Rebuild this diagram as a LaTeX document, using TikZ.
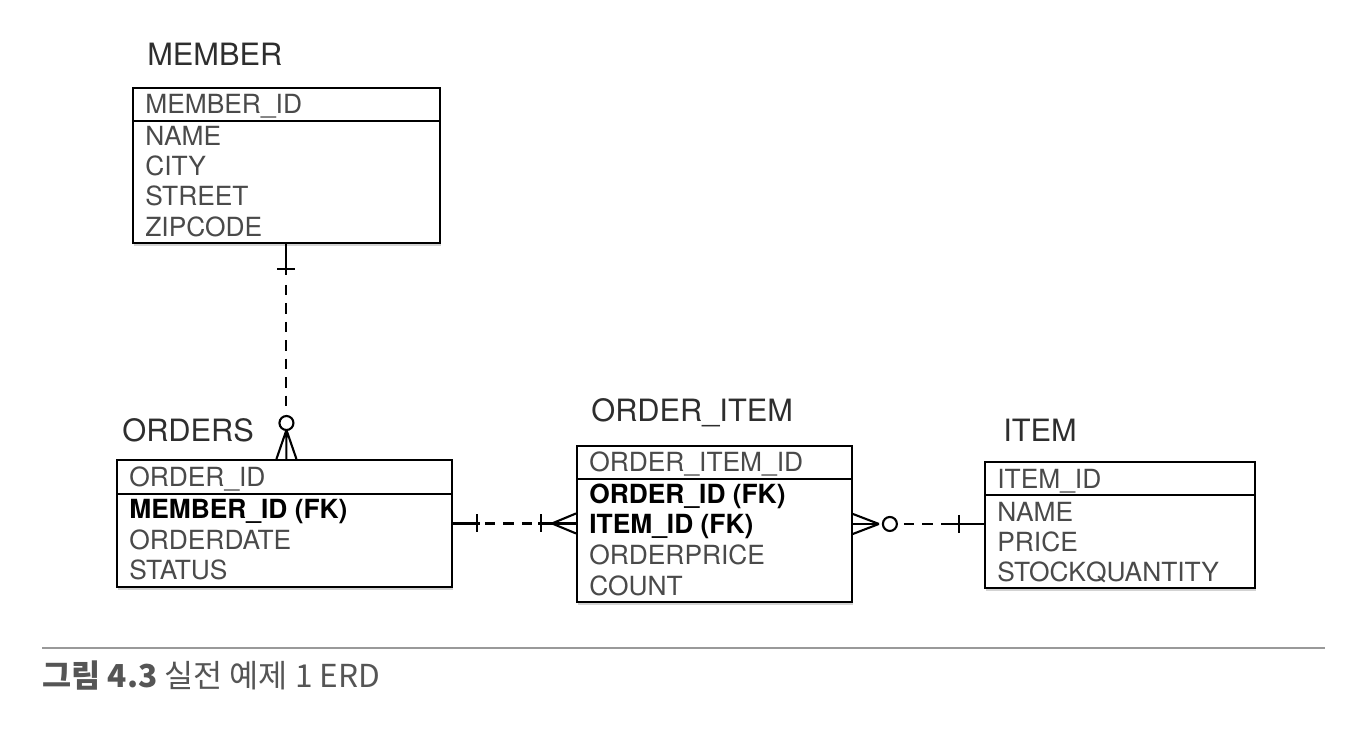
\documentclass[tikz,border=0pt]{standalone}
\usepackage{fontspec}
\setmainfont{TeX Gyre Heros}
\newfontfamily\krfont{Noto Sans CJK KR}
\usetikzlibrary{calc,shadows}
\definecolor{fieldgray}{HTML}{4A4A4A}
\definecolor{titlegray}{HTML}{2E2E2E}
\definecolor{capgray}{HTML}{555555}

\begin{document}
\begin{tikzpicture}[x=0.02cm,y=-0.02cm,
  table/.style={draw=black,line width=1.1pt,fill=white,anchor=north west,inner sep=0pt,
    drop shadow={opacity=0.35,shadow xshift=0.6pt,shadow yshift=-1.8pt}},
  title/.style={anchor=base west,inner sep=0pt,text=titlegray,font=\fontsize{17.5}{20}\selectfont},
  field/.style={anchor=base west,inner sep=0pt,text=fieldgray,font=\fontsize{15}{17}\selectfont},
  fkfield/.style={field,text=black,font=\fontsize{15}{17}\selectfont\bfseries},
  rel/.style={line width=1.2pt},
  reldash/.style={rel,dash pattern=on 6pt off 4.5pt}]
\useasboundingbox (0,0) rectangle (1372,754);

% MEMBER
\node[title] (membertitle) at (147,65) {MEMBER};
\node[table,minimum width=6.14cm,minimum height=3.1cm] (member) at (132,87) {};
\draw[line width=1.1pt] ($(member.north west)+(0,34)$) -- ($(member.north east)+(0,34)$);
\node[field] (memberpk) at (145,113) {MEMBER\_ID};
\foreach \f [count=\i] in {NAME,CITY,STREET,ZIPCODE}
  \node[field] (member\i) at (145,{114.6+30.4*\i}) {\f};

% ORDERS
\node[title] (orderstitle) at (122,441) {ORDERS};
\node[table,minimum width=6.7cm,minimum height=2.54cm] (orders) at (116,459) {};
\draw[line width=1.1pt] ($(orders.north west)+(0,35)$) -- ($(orders.north east)+(0,35)$);
\node[field] (orderspk) at (129,486) {ORDER\_ID};
\node[fkfield] (orders1) at (129,518) {MEMBER\_ID (FK)};
\node[field] (orders2) at (129,549) {ORDERDATE};
\node[field] (orders3) at (129,579) {STATUS};

% ORDER_ITEM
\node[title] (oitemtitle) at (591,421) {ORDER\_ITEM};
\node[table,minimum width=5.5cm,minimum height=3.12cm] (oitem) at (576,445) {};
\draw[line width=1.1pt] ($(oitem.north west)+(0,34)$) -- ($(oitem.north east)+(0,34)$);
\node[field] (oitempk) at (589,471) {ORDER\_ITEM\_ID};
\node[fkfield] (oitem1) at (589,503) {ORDER\_ID (FK)};
\node[fkfield] (oitem2) at (589,533) {ITEM\_ID (FK)};
\node[field] (oitem3) at (589,564) {ORDERPRICE};
\node[field] (oitem4) at (589,595) {COUNT};

% ITEM
\node[title] (itemtitle) at (1003,441) {ITEM};
\node[table,minimum width=5.4cm,minimum height=2.52cm] (item) at (984,461) {};
\draw[line width=1.1pt] ($(item.north west)+(0,34)$) -- ($(item.north east)+(0,34)$);
\node[field] (itempk) at (997,488) {ITEM\_ID};
\foreach \f [count=\i] in {NAME,PRICE,STOCKQUANTITY}
  \node[field] (item\i) at (997,{491+30*\i}) {\f};

% member -- orders (one to zero-or-many)
\coordinate (mo) at (member.south |- orders.north);
\draw[rel] (member.south) -- ++(0,31);
\draw[rel] ($(member.south)+(-9,25)$) -- ++(18,0);
\draw[reldash] ($(member.south)+(0,41)$) -- ($(mo)+(0,-51)$);
\draw[rel] ($(mo)+(0,-36)$) circle[radius=0.14cm];
\draw[rel] ($(mo)+(0,-29)$) -- (mo) ($(mo)+(0,-29)$) -- ($(mo)+(-10,0)$) ($(mo)+(0,-29)$) -- ($(mo)+(10,0)$);

% orders -- order_item (one to many)
\coordinate (oi) at (orders.east -| oitem.west);
\draw[rel] (orders.east) -- ++(27,0);
\draw[rel] ($(orders.east)+(24,-9)$) -- ++(0,18);
\draw[reldash] ($(orders.east)+(32,0)$) -- ($(oi)+(-42,0)$);
\draw[rel] ($(oi)+(-38,0)$) -- (oi);
\draw[rel] ($(oi)+(-35,-9)$) -- ++(0,18);
\draw[rel] ($(oi)+(-24,0)$) -- ($(oi)+(0,-10)$) ($(oi)+(-24,0)$) -- ($(oi)+(0,10)$);

% order_item -- item (zero-or-many to one)
\coordinate (ii) at (oitem.east -| item.west);
\draw[rel] (oitem.east) -- ++(26,0);
\draw[rel] ($(oitem.east)+(26,0)$) -- ($(oitem.east)+(0,-10)$) ($(oitem.east)+(26,0)$) -- ($(oitem.east)+(0,10)$);
\draw[rel] ($(oitem.east)+(37,0)$) circle[radius=0.14cm];
\draw[reldash] ($(oitem.east)+(51,0)$) -- ($(ii)+(-50,0)$);
\draw[rel] ($(ii)+(-43,0)$) -- (ii);
\draw[rel] ($(ii)+(-25,-9)$) -- ++(0,18);

% caption
\coordinate (ruleL) at (42,648);
\coordinate (ruleR) at (1325,648);
\draw[line width=0.6pt,capgray!60] (ruleL) -- (ruleR);
\node[anchor=base west,inner sep=0pt,text=capgray,font=\krfont\fontsize{18}{21}\selectfont] (caption) at (42,687) {\textbf{그림 4.3} 실전 예제 1 ERD};
\end{tikzpicture}
\end{document}
